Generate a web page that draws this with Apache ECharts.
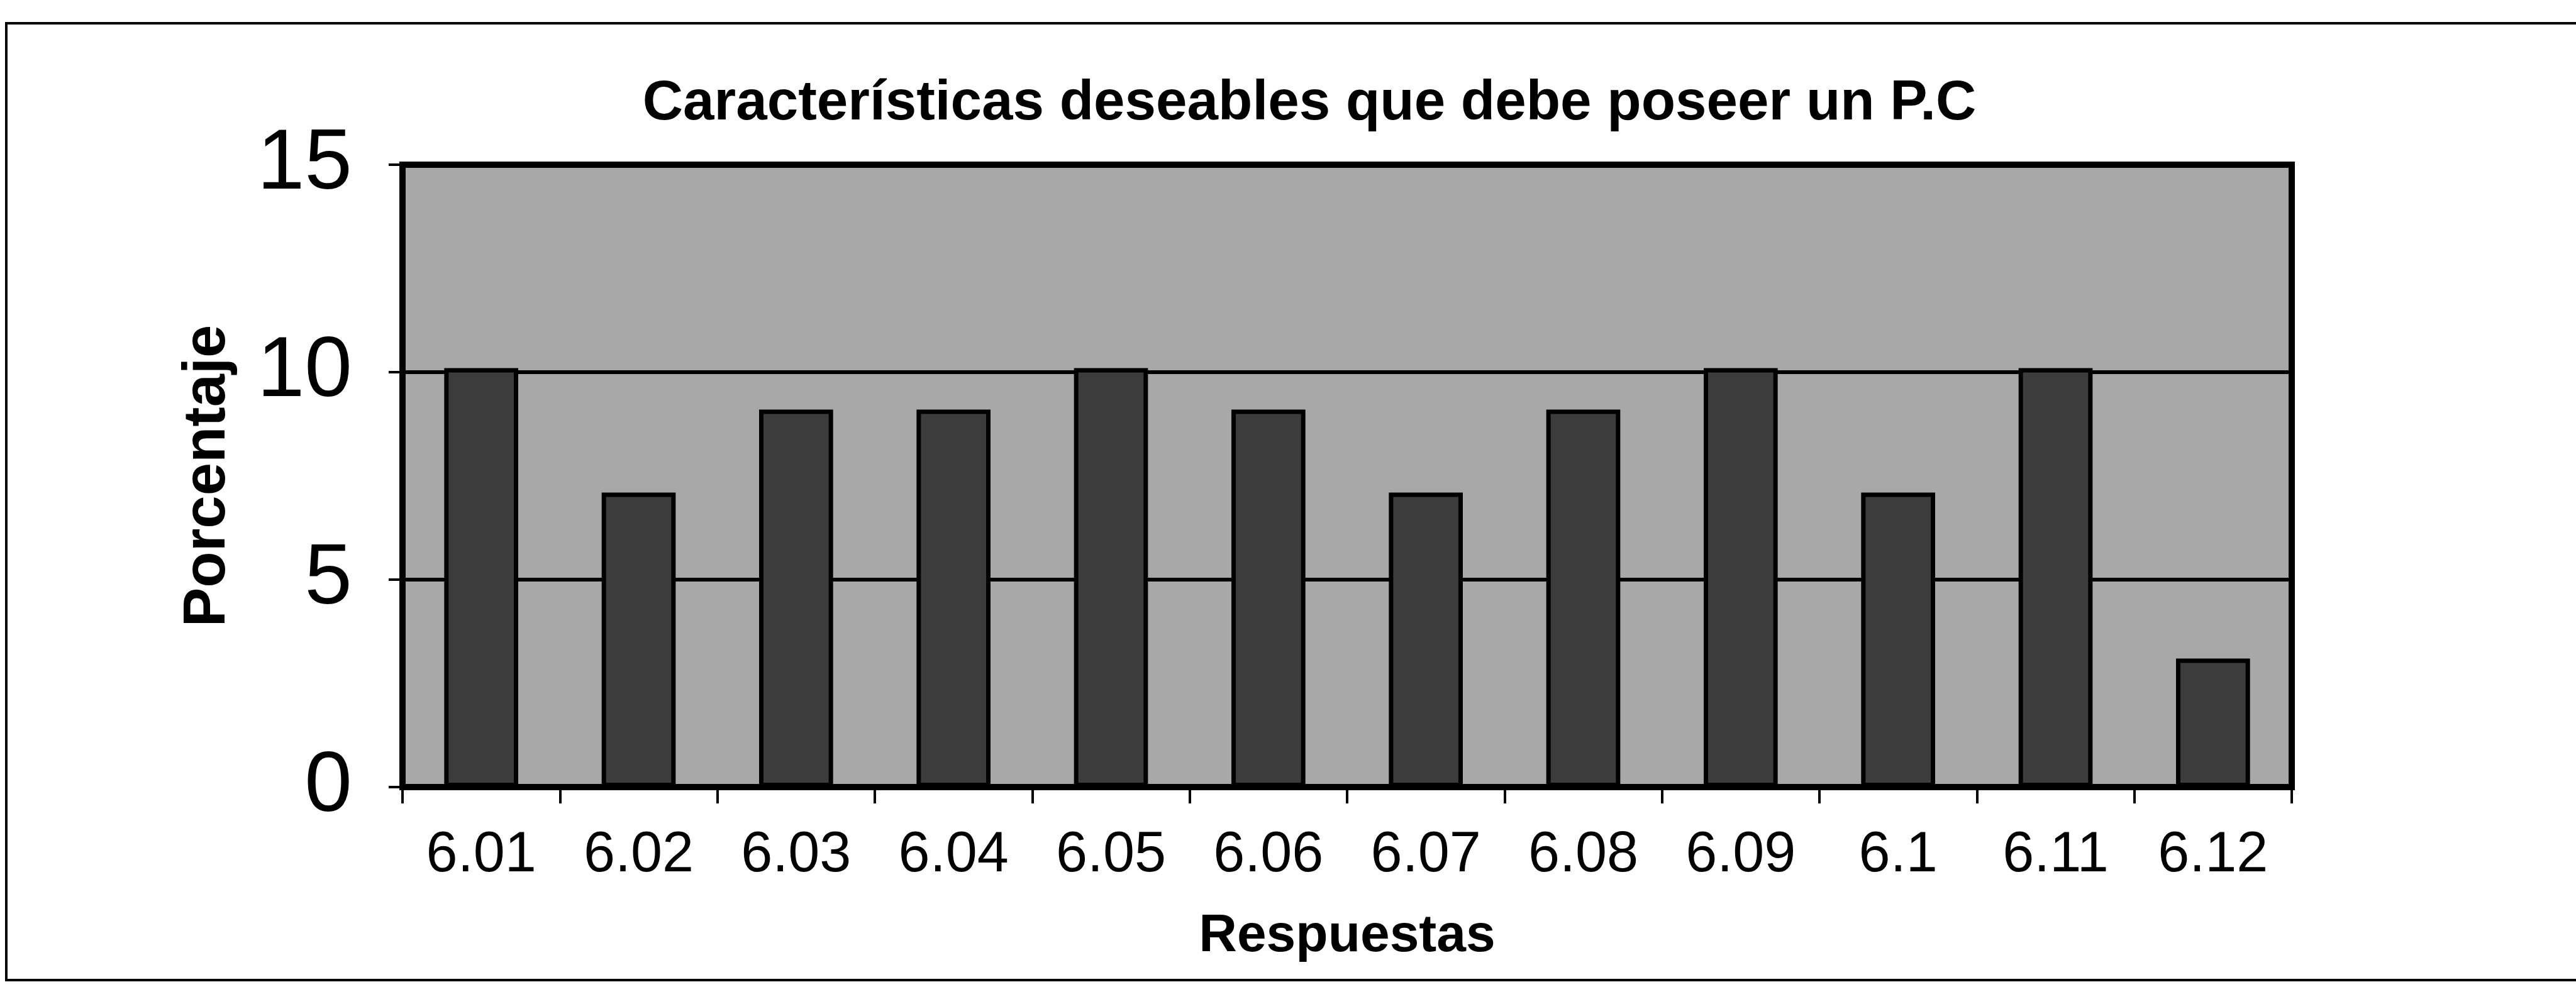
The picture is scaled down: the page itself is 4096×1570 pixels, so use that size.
<!DOCTYPE html>
<html>
<head>
<meta charset="utf-8">
<script src="https://cdn.jsdelivr.net/npm/echarts@6/dist/echarts.min.js"></script>
<style>
  html, body { margin: 0; padding: 0; background: #fff; }
  #chart { width: 4096px; height: 1570px; }
</style>
</head>
<body>
<div id="chart"></div>
<script>
// categories (respuestas) and percentages
const respuestas = ['6.01', '6.02', '6.03', '6.04', '6.05', '6.06', '6.07', '6.08', '6.09', '6.1', '6.11', '6.12'];
const porcentaje = [10.1, 7.1, 9.1, 9.1, 10.1, 9.1, 7.1, 9.1, 10.1, 7.1, 10.1, 3.1];
const yTicks = [0, 5, 10, 15];

const chart = echarts.init(document.getElementById('chart'), null, { renderer: 'canvas' });

const font = '"Liberation Sans", Arial, sans-serif';

const option = {
  backgroundColor: '#ffffff',
  animation: false,
  title: {
    text: 'Características deseables que debe poseer un P.C',
    left: 2077,
    textAlign: 'center',
    top: 116,
    textStyle: {
      fontFamily: font,
      fontWeight: 'bold',
      fontSize: 89,
      color: '#000'
    }
  },
  graphic: [
    {
      // outer frame of the picture
      type: 'rect',
      shape: { x: 10, y: 37, width: 4100, height: 1522 },
      style: { fill: null, stroke: '#000', lineWidth: 4 },
      silent: true
    }
  ],
  grid: {
    left: 640,
    right: 452,
    top: 262,
    bottom: 318,
    show: true,
    backgroundColor: '#a8a8a8',
    borderColor: '#000',
    borderWidth: 10
  },
  xAxis: {
    type: 'category',
    data: respuestas,
    name: 'Respuestas',
    nameLocation: 'middle',
    nameGap: 196,
    nameTextStyle: {
      fontFamily: font,
      fontWeight: 'bold',
      fontSize: 84,
      color: '#000'
    },
    axisLine: { show: true, lineStyle: { color: '#000', width: 10 } },
    axisTick: { show: true, alignWithLabel: false, length: 26, lineStyle: { color: '#000', width: 4 } },
    axisLabel: {
      fontFamily: font,
      fontSize: 90,
      color: '#000',
      margin: 64
    },
    splitLine: { show: false }
  },
  yAxis: {
    type: 'value',
    min: yTicks[0],
    max: yTicks[yTicks.length - 1],
    interval: yTicks[1] - yTicks[0],
    name: 'Porcentaje',
    nameLocation: 'middle',
    nameGap: 262,
    nameTextStyle: {
      fontFamily: font,
      fontWeight: 'bold',
      fontSize: 94,
      color: '#000'
    },
    axisLine: { show: true, lineStyle: { color: '#000', width: 10 } },
    axisTick: { show: true, length: 22, lineStyle: { color: '#000', width: 4 } },
    axisLabel: {
      fontFamily: font,
      fontSize: 136,
      color: '#000',
      margin: 80
    },
    splitLine: { show: true, lineStyle: { color: '#000', width: 6 } }
  },
  series: [
    {
      type: 'bar',
      data: porcentaje,
      barWidth: '47%',
      itemStyle: {
        color: '#3c3c3c',
        borderColor: '#000',
        borderWidth: 7
      }
    }
  ]
};

chart.setOption(option);
</script>
</body>
</html>
